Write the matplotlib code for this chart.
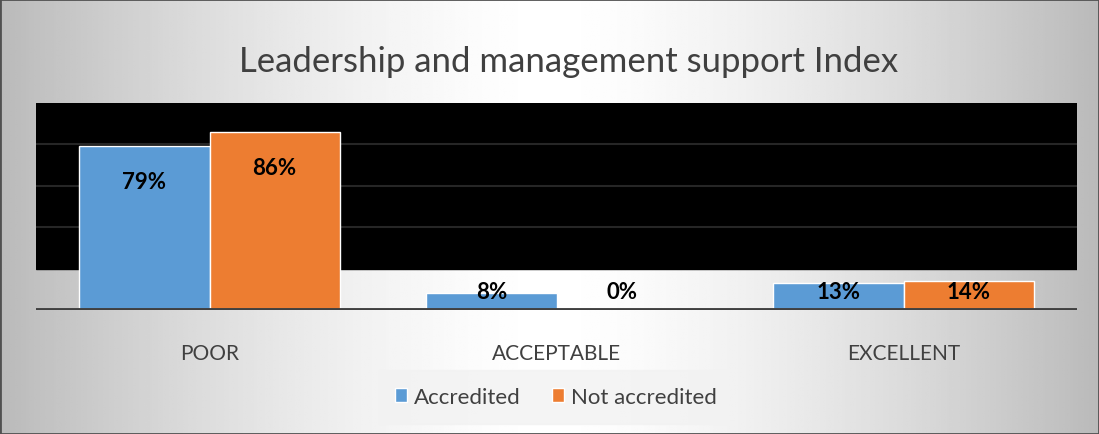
import numpy as np
import matplotlib.pyplot as plt
from matplotlib.patches import Rectangle

plt.rcParams['font.family'] = ['Lato', 'DejaVu Sans']

# donnees du graphique
categories = ["POOR", "ACCEPTABLE", "EXCELLENT"]
accredited = [79, 8, 13]
not_accredited = [86, 0, 14]
series_names = ["Accredited", "Not accredited"]

BLUE = "#5B9BD5"
ORANGE = "#ED7D31"
GREY_TXT = "#404040"

fig = plt.figure(figsize=(10.99, 4.35), dpi=100)

# fond degrade (gris sur les bords, blanc au centre)
bg = fig.add_axes([0, 0, 1, 1], zorder=-10)
xx = np.linspace(0, 1, 400)
yy = np.linspace(0, 1, 200)
X, Y = np.meshgrid(xx, yy)
v = 1 - 0.27 * (np.abs(X - 0.5) / 0.5) ** 1.5
bg.imshow(v, cmap="gray", vmin=0, vmax=1, aspect="auto", extent=[0, 1, 0, 1])
bg.add_patch(Rectangle((0, 0), 1, 1, fill=False, ec="#505050", lw=2,
                       transform=bg.transAxes))
bg.set_axis_off()

ax = fig.add_axes([36 / 1099, 124 / 435, 1041 / 1099, 207 / 435])
ax.patch.set_alpha(0)

x = np.arange(len(categories))
w = 0.375

# zone noire de 20 a 100
ax.axhspan(20, 100, color="black", zorder=0)
for g in [40, 60, 80]:
    ax.axhline(g, color="#262626", lw=1.5, zorder=1)

b1 = ax.bar(x - w / 2, accredited, w, color=BLUE, edgecolor="white", lw=1,
            label=series_names[0], zorder=2)
b2 = ax.bar(x + w / 2, not_accredited, w, color=ORANGE, edgecolor="white", lw=1,
            label=series_names[1], zorder=2)

for bars, vals in [(b1, accredited), (b2, not_accredited)]:
    for rect, val in zip(bars, vals):
        ypos = max(val - 17, 8.7)
        ax.text(rect.get_x() + rect.get_width() / 2, ypos, f"{val}%",
                ha="center", va="center", fontsize=16, fontweight="bold",
                color="black", zorder=3)

ax.axhline(0, color=GREY_TXT, lw=2.8, zorder=4)

ax.set_xlim(-0.5, 2.5)
ax.set_ylim(0, 100)
ax.set_yticks([])
ax.set_xticks(x)
ax.set_xticklabels(categories, fontsize=15, color=GREY_TXT)
ax.tick_params(axis="x", length=0, pad=24)
for s in ax.spines.values():
    s.set_visible(False)

fig.text(0.517, 0.858, "Leadership and management support Index",
         ha="center", va="center", fontsize=25, color=GREY_TXT)

leg = fig.legend(handles=[b1, b2], labels=series_names, loc="center",
                 bbox_to_anchor=(556 / 1099, 1 - 398 / 435), ncol=2,
                 fontsize=16, frameon=True, fancybox=False, handlelength=0.55,
                 handleheight=0.55, handletextpad=0.3, columnspacing=1.4,
                 borderpad=0.75, borderaxespad=0)
leg.get_frame().set_facecolor("#f2f2f2")
leg.get_frame().set_edgecolor("#f2f2f2")
for t in leg.get_texts():
    t.set_color(GREY_TXT)

fig.savefig("out.png", dpi=100)
